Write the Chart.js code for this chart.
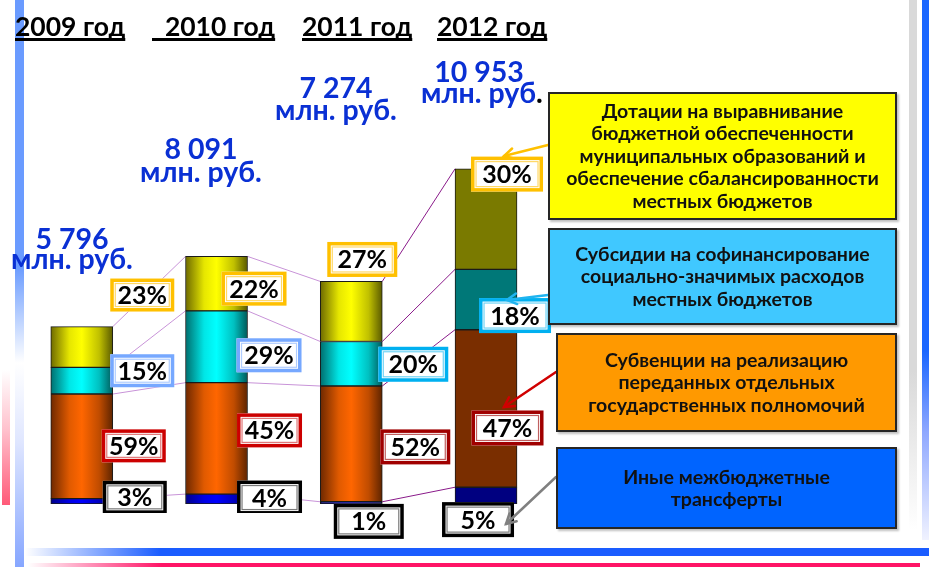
<!DOCTYPE html>
<html><head><meta charset="utf-8">
<script src="https://cdn.jsdelivr.net/npm/chart.js@4.4.0/dist/chart.umd.min.js"></script>
<style>
html,body{margin:0;padding:0;background:#fff;overflow:hidden}
#wrap{position:relative;width:929px;height:567px;overflow:hidden;font-family:Lato,"Open Sans",sans-serif}
.deco{position:absolute}
#c{position:absolute;left:0;top:0;z-index:2}
.txt{position:absolute;white-space:pre;font-weight:bold;z-index:3}
.box{position:absolute;box-sizing:border-box;border:2px solid #262626;display:flex;align-items:center;justify-content:center;text-align:center;font-weight:bold;font-size:19.5px;line-height:22.5px;color:#111;z-index:3;box-shadow:2px 2px 2px rgba(0,0,0,0.25);white-space:nowrap}
</style></head><body>
<div id="wrap">
  <div class="deco" style="left:15px;top:0;width:9px;height:567px;background:linear-gradient(to bottom,#6a9bff 0%,#6a9bff 47%,#ffffff 64%,#dfe6ff 78%,#86a6ff 100%)"></div>
  <div class="deco" style="left:2px;top:370px;width:8px;height:135px;background:linear-gradient(to bottom,#ffffff 0%,#ffc0cc 45%,#ff5a78 100%)"></div>
  <div class="deco" style="left:25px;top:548px;width:904px;height:8px;background:linear-gradient(to right,#ffffff 0%,#1a5cff 15%,#1a5cff 100%)"></div>
  <div class="deco" style="left:28px;top:563px;width:892px;height:4px;background:linear-gradient(to right,#ffffff 0%,#ff1466 15%,#ff1466 100%)"></div>
  <div class="deco" style="left:909px;top:0;width:8px;height:530px;background:linear-gradient(to bottom,#d9d9d9 0%,#d9d9d9 70%,#ffffff 100%)"></div>
  <div class="deco" style="left:922px;top:0;width:7px;height:540px;background:linear-gradient(to bottom,#1a66ff 0%,#1a66ff 65%,#8fa8ff 80%,#f0f2ff 100%)"></div>
  <canvas id="c" width="929" height="567"></canvas>
</div>
<script>
// ---------- data ----------
const years = ['2009 год', '2010 год', '2011 год', '2012 год'];
const totals = [5796, 8091, 7274, 10953];               // млн. руб.
const totalLabels = ['5 796', '8 091', '7 274', '10 953'];
const unitLabel = 'млн. руб';
const shareOther = [3, 4, 1, 5];        // Иные межбюджетные трансферты, %
const shareSubv = [59, 45, 52, 47];     // Субвенции, %
const shareSubs = [15, 29, 20, 18];     // Субсидии, %
const shareDot = [23, 22, 27, 30];      // Дотации, %
const seriesNames = [
  'Иные межбюджетные трансферты',
  'Субвенции на реализацию переданных отдельных государственных полномочий',
  'Субсидии на софинансирование социально-значимых расходов местных бюджетов',
  'Дотации на выравнивание бюджетной обеспеченности муниципальных образований и обеспечение сбалансированности местных бюджетов'
];
const legendLines = [
  ['Иные межбюджетные', 'трансферты'],
  ['Субвенции на реализацию', 'переданных отдельных', 'государственных полномочий'],
  ['Субсидии на софинансирование', 'социально-значимых расходов', 'местных бюджетов'],
  ['Дотации на выравнивание', 'бюджетной обеспеченности', 'муниципальных образований и', 'обеспечение сбалансированности', 'местных бюджетов']
];
const shares = [shareOther, shareSubv, shareSubs, shareDot];

// ---------- layout / style (not data) ----------
const gradStops = [
  ['#00008a', '#0000e6', '#0000ff', '#0000c0', '#000070'],
  ['#6e2800', '#e05a00', '#ff6600', '#c04c00', '#5e2400'],
  ['#006e6e', '#00e6e6', '#00ffff', '#00c0c0', '#005a5a'],
  ['#6e6a00', '#e6e600', '#ffff00', '#c0c000', '#5a5a00']
];
const flat2012 = ['#000080', '#7a2e00', '#007878', '#7a7a00'];
const boxOuter = [
  ['#000000', '#000000', '#000000', '#000000'],
  ['#cc0000', '#cc0000', '#a00000', '#a00000'],
  ['#76a8ff', '#76a8ff', '#00b0f0', '#00b0f0'],
  ['#ffc000', '#ffc000', '#ffc000', '#ffc000']
];
const boxInner = [
  ['#7a7a7a', '#7a7a7a', '#7a7a7a', '#7a7a7a'],
  ['#e07878', '#e07878', '#c06060', '#c06060'],
  ['#b0cdff', '#b0cdff', '#70d4f6', '#70d4f6'],
  ['#ffd866', '#ffd866', '#ffd866', '#ffd866']
];
// label offsets from bar centre (dx) and segment middle (dy): [dataset][year]
const lblDx = [[53, 53, 17.5, -8], [52, 53, 64, 21.5], [60.5, 52.5, 62, 29], [60.5, 37.5, 11, 21]];
const lblDy = [[-4, -1.5, 18.5, 24], [-0.5, -8, 3, 19.5], [-10, 8.5, 0.5, 16], [-52, 5, -52, -45]];
const boxW = [64, 65, 70, 72];
const boxH = [33, 34, 35, 35];

function barFill(d) {
  return function (ctx) {
    const i = ctx.dataIndex;
    if (i === 3) return flat2012[d];
    const chart = ctx.chart, xs = chart.scales && chart.scales.x;
    if (!xs || i === undefined) return gradStops[d][2];
    const cx = xs.getPixelForValue(i);
    if (!isFinite(cx)) return gradStops[d][2];
    const g = chart.ctx.createLinearGradient(cx - 31, 0, cx + 31, 0);
    const s = gradStops[d];
    g.addColorStop(0, s[0]); g.addColorStop(0.3, s[1]); g.addColorStop(0.5, s[2]);
    g.addColorStop(0.78, s[3]); g.addColorStop(1, s[4]);
    return g;
  };
}

const datasets = shares.map((sh, d) => ({
  label: seriesNames[d],
  data: totals.map((t, i) => t * sh[i] / 100),
  backgroundColor: barFill(d),
  borderColor: '#1a1a1a',
  borderWidth: 1,
  borderSkipped: false,
  barThickness: 62
}));

function arrow(ctx, x1, y1, x2, y2, color) {
  ctx.save();
  ctx.strokeStyle = color; ctx.lineWidth = 2.5; ctx.lineCap = 'round';
  ctx.beginPath(); ctx.moveTo(x1, y1); ctx.lineTo(x2, y2); ctx.stroke();
  const a = Math.atan2(y2 - y1, x2 - x1), L = 11;
  ctx.beginPath();
  ctx.moveTo(x2 - L * Math.cos(a - 0.5), y2 - L * Math.sin(a - 0.5));
  ctx.lineTo(x2, y2);
  ctx.lineTo(x2 - L * Math.cos(a + 0.5), y2 - L * Math.sin(a + 0.5));
  ctx.stroke();
  ctx.restore();
}

const overlay = {
  id: 'overlay',
  beforeDatasetsDraw(chart) {
    const ctx = chart.ctx;
    const metas = [0, 1, 2, 3].map(d => chart.getDatasetMeta(d).data);
    ctx.save();
    ctx.lineWidth = 1;
    for (let i = 0; i < 3; i++) {
      ctx.strokeStyle = i < 2 ? '#c893d8' : '#8a1a8a';
      for (let d = 0; d < 4; d++) {
        const a = metas[d][i], b = metas[d][i + 1];
        ctx.beginPath();
        ctx.moveTo(a.x + a.width / 2, a.y);
        ctx.lineTo(b.x - b.width / 2, b.y);
        ctx.stroke();
      }
    }
    ctx.restore();
  },
  afterDatasetsDraw(chart) {
    const ctx = chart.ctx;
    for (let d = 0; d < 4; d++) {
      const els = chart.getDatasetMeta(d).data;
      for (let i = 0; i < 4; i++) {
        const el = els[i];
        const cx = el.x + lblDx[d][i];
        const cy = (el.y + el.base) / 2 + lblDy[d][i];
        const w = boxW[i], h = boxH[i];
        const x = cx - w / 2, y = cy - h / 2;
        ctx.save();
        if (d === 0 && i < 2) { ctx.beginPath(); ctx.rect(0, 0, 929, 513); ctx.clip(); }
        ctx.fillStyle = '#fff'; ctx.fillRect(x, y, w, h);
        ctx.lineWidth = 3.5; ctx.strokeStyle = boxOuter[d][i];
        ctx.strokeRect(x + 1.75, y + 1.75, w - 3.5, h - 3.5);
        ctx.lineWidth = 1.2; ctx.strokeStyle = boxInner[d][i];
        ctx.strokeRect(x + 5, y + 5, w - 10, h - 10);
        ctx.fillStyle = '#000';
        ctx.font = 'bold 25px Lato';
        ctx.textAlign = 'center'; ctx.textBaseline = 'alphabetic';
        ctx.fillText(shares[d][i] + '%', cx, cy + 9);
        ctx.restore();
      }
    }
    arrow(ctx, 548, 145, 504, 156, '#ffc000');
    arrow(ctx, 548, 295, 507, 300, '#20b4f0');
    arrow(ctx, 556, 372, 504, 407, '#d00000');
    arrow(ctx, 556, 477, 506, 524, '#808080');
  }
};

const chart = new Chart(document.getElementById('c'), {
  type: 'bar',
  data: { labels: years, datasets },
  options: {
    responsive: false,
    animation: false,
    devicePixelRatio: 1,
    layout: { padding: { left: 14.4, right: 375.6, top: 14.4, bottom: 63 } },
    plugins: { legend: { display: false }, tooltip: { enabled: false } },
    scales: {
      x: { stacked: true, display: false, grid: { display: false } },
      y: { stacked: true, display: false, min: 0, max: 16000, grid: { display: false } }
    }
  },
  plugins: [overlay]
});
chart.update();

// ---------- texts (HTML) ----------
const wrap = document.getElementById('wrap');
function addText(str, cx, baseline, fs, color, opts) {
  const el = document.createElement('div');
  el.className = 'txt';
  el.style.fontSize = fs + 'px';
  el.style.lineHeight = fs + 'px';
  el.style.color = color;
  el.style.top = (baseline - 0.887 * fs) + 'px';
  if (opts && opts.left !== undefined) { el.style.left = opts.left + 'px'; }
  else { el.style.left = (cx - 150) + 'px'; el.style.width = '300px'; el.style.textAlign = 'center'; }
  if (opts && opts.underline) {
    el.style.textDecoration = 'underline';
    el.style.textDecorationThickness = '3px';
    el.style.textUnderlineOffset = '2px';
    el.style.textDecorationSkipInk = 'none';
  }
  el.innerHTML = str;
  wrap.appendChild(el);
  return el;
}
// year headings
const headLeft = [15, 152, 302, 437];
years.forEach((y, i) => addText((i === 1 ? '\u00a0\u00a0' : '') + y, 0, 37, 26.5, '#000', { left: headLeft[i], underline: true }));
// totals
const totCx = [72, 201, 336, 479];
const totBase = [249, 159, 98, 82];
const unitBase = [269, 182, 120, 103];
totalLabels.forEach((t, i) => {
  addText(t, totCx[i], totBase[i], 28.5, '#0a30d4');
  addText(unitLabel + (i === 3 ? '<span style="color:#000">.</span>' : '.'), totCx[i] + (i === 3 ? 3 : 0), unitBase[i], 28.5, '#0a30d4');
});
// legend boxes
const legBoxes = [
  { l: 556, t: 447, w: 341, h: 82, c: '#0064ff' },
  { l: 556, t: 333, w: 341, h: 99, c: '#ff9900' },
  { l: 548, t: 228, w: 349, h: 97, c: '#40c8ff' },
  { l: 548, t: 92, w: 349, h: 128, c: '#ffff00' }
];
legBoxes.forEach((b, d) => {
  const el = document.createElement('div');
  el.className = 'box';
  el.style.left = b.l + 'px'; el.style.top = b.t + 'px';
  el.style.width = b.w + 'px'; el.style.height = b.h + 'px';
  el.style.background = b.c;
  el.innerHTML = '<div>' + legendLines[d].join('<br>') + '</div>';
  wrap.appendChild(el);
});
</script>
</body></html>
